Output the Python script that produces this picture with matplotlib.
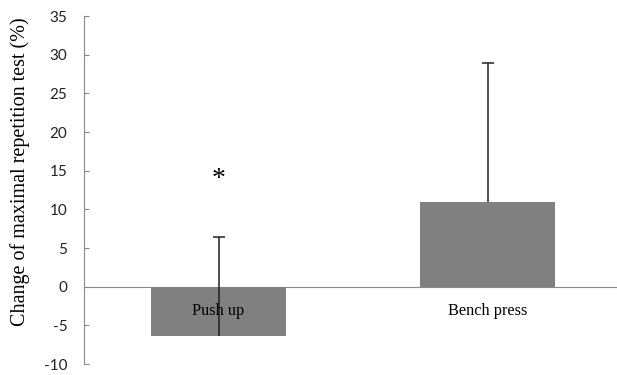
import matplotlib.pyplot as plt

plt.rcParams['axes.unicode_minus'] = False

categories = ['Push up', 'Bench press']
means = [-6.4, 10.9]
sds = [12.8, 18.0]
star_y = 13.9

fig = plt.figure(figsize=(6.17, 3.75), dpi=100)
ax = fig.add_axes([84 / 617, 11 / 375, 1 - 84 / 617, 348 / 375])
ax.set_axisbelow(False)

x = list(range(len(categories)))
ax.bar(x, means, width=0.5, color='#808080', zorder=2)
# upward error bars only, drawn from the bar end
_, caps, _ = ax.errorbar(x, means, yerr=[[0, 0], sds], fmt='none', ecolor='#222222',
                         elinewidth=1.1, capsize=4, capthick=1.1, zorder=3)
caps[0].set_visible(False)  # no cap at the lower end
ax.text(0, star_y, '*', ha='center', va='center', fontsize=20,
        family='Liberation Serif')

ax.set_xlim(-0.5, 1.48)
ax.set_ylim(-10, 35)
ax.set_yticks(range(-10, 36, 5))

for s in ['top', 'right']:
    ax.spines[s].set_visible(False)
ax.spines['left'].set_color('#888888')
ax.spines['bottom'].set_color('#888888')
ax.spines['bottom'].set_position(('data', 0))
ax.spines['bottom'].set_zorder(1)
ax.xaxis.set_zorder(4)

ax.tick_params(axis='y', direction='in', length=3.6, color='#888888',
               labelsize=11, pad=12, labelcolor='#222222')
for lab in ax.get_yticklabels():
    lab.set_family('Lato')
ax.set_xticks(x)
ax.set_xticklabels(categories, family='Liberation Serif', fontsize=11.8)
ax.tick_params(axis='x', length=0, pad=12)

ax.set_ylabel('Change of maximal repetition test (%)', family='Liberation Serif',
              fontsize=14.5)
ax.yaxis.set_label_coords(-0.102, 0.552)

plt.savefig('out.png', dpi=100)
